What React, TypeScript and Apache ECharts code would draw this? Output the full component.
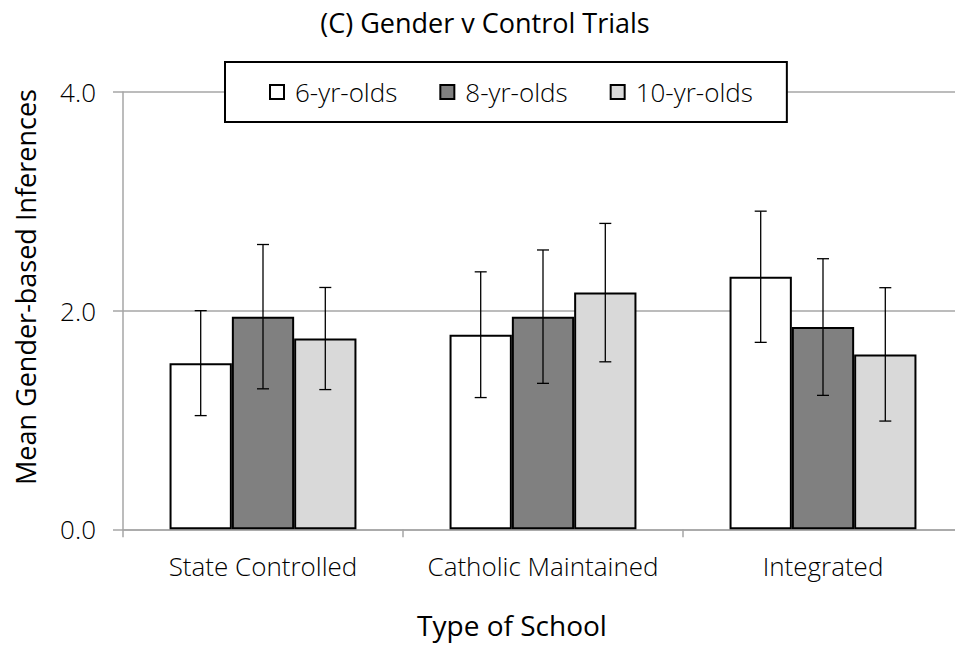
import React, { useEffect, useRef } from "react";
import * as echarts from "echarts";

const categories = ["State Controlled", "Catholic Maintained", "Integrated"];
const seriesNames = ["6-yr-olds", "8-yr-olds", "10-yr-olds"];
const means6 = [1.52, 1.78, 2.31];
const means8 = [1.945, 1.945, 1.85];
const means10 = [1.745, 2.165, 1.6];
const err6 = [0.48, 0.575, 0.6];
const err8 = [0.66, 0.61, 0.625];
const err10 = [0.467, 0.633, 0.61];
const yTicks = [0, 2, 4];
const colors = ["#ffffff", "#808080", "#d9d9d9"];

const FONT = "'Open Sans', 'Noto Sans', sans-serif";

export default function App() {
  const ref = useRef<HTMLDivElement>(null);
  useEffect(() => {
    if (!ref.current) return;
    const chart = echarts.init(ref.current, undefined, { renderer: "svg" });
    const means = [means6, means8, means10];
    const errs = [err6, err8, err10];
    const barFrac = 0.2225;
    const errData: number[][] = [];
    means.forEach((m, s) => {
      m.forEach((v, c) => {
        errData.push([c, v - errs[s][c], v + errs[s][c], s]);
      });
    });
    const barSeries = seriesNames.map((name, i) => ({
      name,
      type: "bar",
      data: means[i],
      barWidth: "22.25%",
      barGap: "0%",
      itemStyle: { color: colors[i], borderColor: "#000", borderWidth: 2 },
      z: 2,
    }));
    chart.setOption({
      animation: false,
      backgroundColor: "#fff",
      textStyle: { fontFamily: FONT },
      grid: { left: 123, top: 92, width: 840, height: 437.3, containLabel: false },
      legend: {
        data: seriesNames,
        left: 225,
        top: 62,
        orient: "horizontal",
        backgroundColor: "#fff",
        borderColor: "#000",
        borderWidth: 2,
        borderRadius: 0,
        padding: [17, 34, 17, 44],
        itemGap: 42,
        itemWidth: 14,
        itemHeight: 14,
        icon: "rect",
        textStyle: { fontSize: 26, color: "#000", fontFamily: FONT, fontWeight: 300, padding: [0, 0, 0, 6] },
      },
      xAxis: {
        type: "category",
        data: categories,
        axisLine: { lineStyle: { color: "#a6a6a6", width: 1.5 } },
        axisTick: { show: true, length: 8, interval: 0, alignWithLabel: false, lineStyle: { color: "#a6a6a6", width: 1.5 } },
        axisLabel: { interval: 0, hideOverlap: false, fontSize: 26, color: "#000", margin: 24, fontFamily: FONT, fontWeight: 300 },
      },
      yAxis: {
        type: "value",
        min: 0,
        max: 4,
        interval: 2,
        axisLine: { show: true, lineStyle: { color: "#a6a6a6", width: 1.5 } },
        axisTick: { show: true, length: 10, lineStyle: { color: "#a6a6a6", width: 1.5 } },
        splitLine: { show: true, lineStyle: { color: "#a6a6a6", width: 1.5 } },
        axisLabel: {
          fontSize: 26,
          color: "#000",
          margin: 27,
          fontFamily: FONT,
          fontWeight: 300,
          formatter: (v: number) => (yTicks.includes(v) ? v.toFixed(1) : ""),
        },
      },
      series: [
        ...barSeries,
        {
          type: "custom",
          name: "errors",
          data: errData,
          encode: { x: 0, y: [1, 2] },
          z: 5,
          renderItem: (params: any, api: any) => {
            const c = api.value(0);
            const s = api.value(3);
            const band = api.size([1, 0])[0];
            const bw = band * barFrac;
            const lo = api.coord([c, api.value(1)]);
            const hi = api.coord([c, api.value(2)]);
            const x = lo[0] + (s - 1) * bw;
            const cap = 6;
            const style = { stroke: "#000", lineWidth: 1.3, fill: "none" };
            return {
              type: "group",
              children: [
                { type: "line", shape: { x1: x, y1: lo[1], x2: x, y2: hi[1] }, style },
                { type: "line", shape: { x1: x - cap, y1: lo[1], x2: x + cap, y2: lo[1] }, style },
                { type: "line", shape: { x1: x - cap, y1: hi[1], x2: x + cap, y2: hi[1] }, style },
              ],
            };
          },
        },
      ],
      graphic: [
        {
          type: "text",
          x: 485,
          y: 22,
          style: { text: "(C) Gender v Control Trials", fontSize: 27, fontFamily: FONT, fill: "#000", align: "center", verticalAlign: "middle" },
        },
        {
          type: "text",
          x: 512,
          y: 625,
          style: { text: "Type of School", fontSize: 28, fontFamily: FONT, fill: "#000", align: "center", verticalAlign: "middle" },
        },
        {
          type: "text",
          x: 25,
          y: 287,
          rotation: Math.PI / 2,
          style: { text: "Mean Gender-based Inferences", fontSize: 27, fontFamily: FONT, fill: "#000", align: "center", verticalAlign: "middle" },
        },
      ],
    });
    return () => chart.dispose();
  }, []);
  return (
    <div style={{ position: "fixed", left: 0, top: 0, width: 955, height: 646, overflow: "hidden", background: "#fff" }}>
      <div ref={ref} style={{ position: "absolute", left: 0, top: 0, width: 975, height: 646 }} />
    </div>
  );
}
